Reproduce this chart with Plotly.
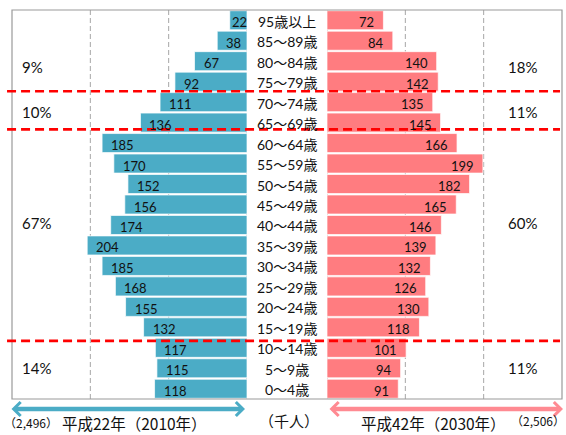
import plotly.graph_objects as go

# Age groups, top row first
ages = ["95歳以上", "85～89歳", "80～84歳", "75～79歳", "70～74歳", "65～69歳",
        "60～64歳", "55～59歳", "50～54歳", "45～49歳", "40～44歳", "35～39歳",
        "30～34歳", "25～29歳", "20～24歳", "15～19歳", "10～14歳", "5～9歳", "0～4歳"]

# Population (thousands)
pop_2010 = [22, 38, 67, 92, 111, 136, 185, 170, 152, 156, 174, 204, 185, 168, 155, 132, 117, 115, 118]
pop_2030 = [72, 84, 140, 142, 135, 145, 166, 199, 182, 165, 146, 139, 132, 126, 130, 118, 101, 94, 91]

# Share of each broad age band (75+, 65-74, 15-64, 0-14)
share_2010 = ["9%", "10%", "67%", "14%"]
share_2030 = ["18%", "11%", "60%", "11%"]

total_2010 = "（2,496）"
total_2030 = "（2,506）"
title_2010 = "平成22年（2010年）"
title_2030 = "平成42年（2030年）"
unit_label = "（千人）"

grid_ticks = [0, 100, 200]

BLUE = "#4BACC6"
PINK = "#FF7C80"
ARROW_PINK = "#FF8A92"
TXT = "#111111"
NUM_FONT = "Lato, 'Noto Sans CJK JP', sans-serif"
JP_FONT = "'Noto Sans CJK JP', Lato, sans-serif"

rows = list(range(len(ages)))

fig = go.Figure()
fig.add_trace(go.Bar(
    y=rows, x=pop_2010, orientation="h", xaxis="x", yaxis="y",
    marker=dict(color=BLUE, line=dict(color="rgba(255,255,255,0.7)", width=1)),
    hoverinfo="skip", showlegend=False,
))
fig.add_trace(go.Bar(
    y=rows, x=pop_2030, orientation="h", xaxis="x2", yaxis="y",
    marker=dict(color=PINK, line=dict(color="rgba(255,255,255,0.7)", width=1)),
    hoverinfo="skip", showlegend=False,
))

PLOT_W = 550
HALF_W = 235
L_DOM = [0, HALF_W / PLOT_W]
R_DOM = [(PLOT_W - HALF_W) / PLOT_W, 1]
X_MAX = 300
PX_PER_UNIT = HALF_W / X_MAX

ax_common = dict(showgrid=False, zeroline=False, showticklabels=False,
                 ticks="", showline=False, fixedrange=True)

fig.update_layout(
    width=566, height=435,
    margin=dict(l=12, r=4, t=10, b=36),
    paper_bgcolor="white", plot_bgcolor="white",
    bargap=0.07,
    xaxis=dict(domain=L_DOM, range=[X_MAX, 0], anchor="y", **ax_common),
    xaxis2=dict(domain=R_DOM, range=[0, X_MAX], anchor="y", **ax_common),
    yaxis=dict(range=[18.5, -0.5], anchor="x", **ax_common),
)

shapes = []
# dashed vertical guide lines on both halves
for xr in ("x", "x2"):
    for v in grid_ticks:
        shapes.append(dict(type="line", xref=xr, yref="paper", x0=v, x1=v, y0=0, y1=1,
                           line=dict(color="#A6A6A6", width=1, dash="5px,3px"), layer="below"))
# frame
shapes.append(dict(type="rect", xref="paper", yref="paper", x0=0, x1=1, y0=0, y1=1,
                   line=dict(color="#9A9A9A", width=1.2), layer="above"))
# red band separators
for yb in (3.47, 5.33, 15.66):
    shapes.append(dict(type="line", xref="paper", yref="y", x0=-0.009, x1=0.9964, y0=yb, y1=yb,
                       line=dict(color="#FF0000", width=2.6, dash="9px,5px"), layer="above"))
fig.update_layout(shapes=shapes)


def label_pad(v):
    # keep a short label inside a narrow bar; otherwise a fixed inset
    text_w = 7.5 * len(str(v))
    return max(0, min(7, v * PX_PER_UNIT - text_w - 2))


ann = []
# value labels inside the bar ends
for i, v in enumerate(pop_2010):
    ann.append(dict(xref="x", yref="y", x=v, y=i, text=str(v), showarrow=False,
                    xanchor="left", yanchor="middle", xshift=label_pad(v), yshift=-2,
                    font=dict(family=NUM_FONT, size=13, color=TXT)))
for i, v in enumerate(pop_2030):
    ann.append(dict(xref="x2", yref="y", x=v, y=i, text=str(v), showarrow=False,
                    xanchor="right", yanchor="middle", xshift=-label_pad(v), yshift=-2,
                    font=dict(family=NUM_FONT, size=13, color=TXT)))
# age labels in the centre column
for i, a in enumerate(ages):
    ann.append(dict(xref="paper", yref="y", x=0.5, y=i, text=a, showarrow=False,
                    xanchor="center", yanchor="middle", yshift=-1,
                    font=dict(family=NUM_FONT, size=14, color=TXT)))
# band shares
band_y = [2.3, 4.5, 9.9, 17.0]
for s, yy in zip(share_2010, band_y):
    ann.append(dict(xref="paper", yref="y", x=8 / PLOT_W, y=yy, text=s, showarrow=False,
                    xanchor="left", yanchor="middle",
                    font=dict(family=NUM_FONT, size=15, color=TXT)))
for s, yy in zip(share_2030, band_y):
    ann.append(dict(xref="paper", yref="y", x=510 / PLOT_W, y=yy, text=s, showarrow=False,
                    xanchor="center", yanchor="middle",
                    font=dict(family=NUM_FONT, size=15, color=TXT)))


# double-headed arrows under each half
def px_x(p):
    return (p - 12) / PLOT_W


def px_y(p):
    return (399 - p) / 389


for x0, x1, col in ((10, 245, BLUE), (328, 563, ARROW_PINK)):
    ann.append(dict(xref="paper", yref="paper", x=px_x(x1), y=px_y(409), text="",
                    showarrow=True, axref="pixel", ayref="pixel", ax=-(x1 - x0), ay=0,
                    arrowhead=4, arrowside="end+start", arrowwidth=4.5, arrowsize=0.6,
                    arrowcolor=col, standoff=0, startstandoff=0))

# bottom captions
for txt, cx, cy, size in (
    (total_2010, 31, 422, 12),
    (title_2010, 134, 423, 15.5),
    (unit_label, 289, 421, 15),
    (title_2030, 434, 423, 15.5),
    (total_2030, 538, 421, 12),
):
    ann.append(dict(xref="paper", yref="paper", x=px_x(cx), y=px_y(cy), text=txt,
                    showarrow=False, xanchor="center", yanchor="middle",
                    font=dict(family=JP_FONT, size=size, color=TXT)))

fig.update_layout(annotations=ann)
fig.write_html("out.html")
